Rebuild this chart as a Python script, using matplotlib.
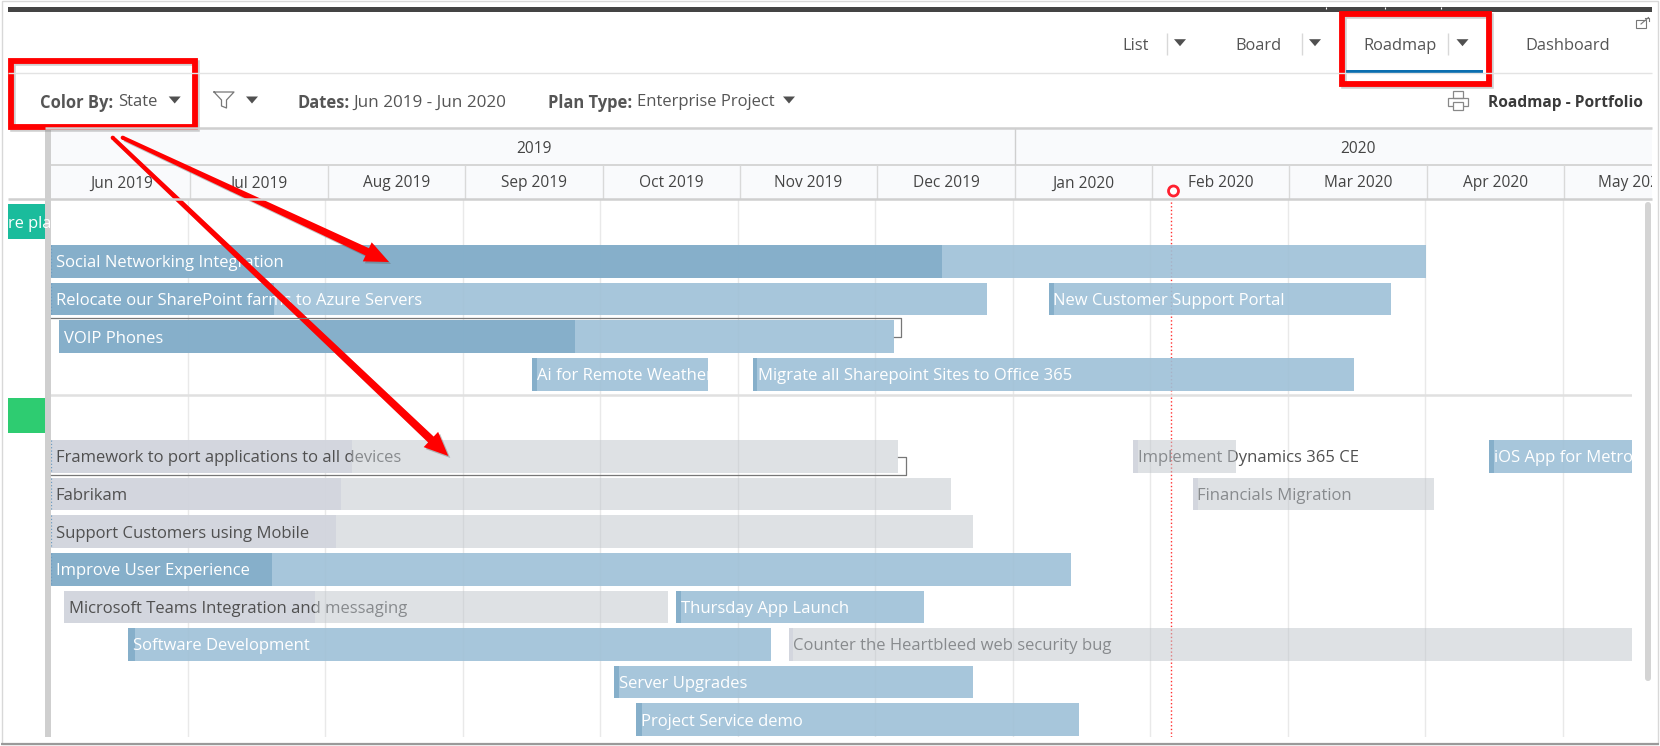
import matplotlib
matplotlib.use("Agg")
import matplotlib.pyplot as plt
import numpy as np
from matplotlib.patches import Circle, FancyBboxPatch, Polygon, Rectangle

plt.rcParams["font.family"] = ["Open Sans", "DejaVu Sans"]

W, H = 1660, 746

# months since the start of Jun 2019
bar_names = [
    "Social Networking Integration", "Relocate our SharePoint farms to Azure Servers",
    "New Customer Support Portal", "VOIP Phones", "Ai for Remote Weather",
    "Migrate all Sharepoint Sites to Office 365", "Framework to port applications to all devices",
    "Implement Dynamics 365 CE", "iOS App for Metro", "Fabrikam", "Financials Migration",
    "Support Customers using Mobile", "Improve User Experience",
    "Microsoft Teams Integration and messaging", "Thursday App Launch", "Software Development",
    "Counter the Heartbleed web security bug", "Server Upgrades", "Project Service demo",
]
bar_rows = [0, 1, 1, 2, 3, 3, 5.186, 5.186, 5.186, 6.186, 6.186, 7.186, 8.186, 9.186, 9.186,
            10.186, 10.186, 11.186, 12.186]
bar_starts = [0.006, 0.006, 7.263, 0.064, 3.505, 5.111, 0.006, 7.875, 10.465, 0.006, 8.31,
              0.006, 0.006, 0.102, 4.556, 0.567, 5.372, 4.102, 4.262]
bar_progress = [6.485, 1.629, 7.302, 3.821, 3.542, 5.145, 2.196, 7.913, 10.5, 2.116, 8.349,
                2.08, 1.615, 1.927, 4.589, 0.618, 5.407, 4.138, 4.305]
bar_ends = [10.004, 6.815, 9.749, 6.135, 4.783, 9.48, 6.167, 8.625, 11.6, 6.553, 10.065,
            6.716, 7.428, 4.491, 6.356, 5.244, 11.6, 6.716, 7.486]
bar_states = ["blue", "blue", "blue", "blue", "blue", "blue", "grey", "grey", "blue", "grey",
              "grey", "grey", "blue", "grey", "blue", "blue", "grey", "blue", "blue"]
today_month = 8.153
section_row = 3.54

year_labels = ["2019", "2020"]
year_edges = [0, 7, 12]
month_labels = ["Jun 2019", "Jul 2019", "Aug 2019", "Sep 2019", "Oct 2019", "Nov 2019", "Dec 2019",
                "Jan 2020", "Feb 2020", "Mar 2020", "Apr 2020", "May 2020"]

BLUE_LIGHT = "#9EC0D7"
BLUE_DARK = "#82ADC9"
GREY_LIGHT = "#BFC5CB"
GREY_DARK = "#D2D5DD"
RED = "#FF0000"
UI_TEXT = "#555555"


def px_axes(fig, left, top, right, bottom, **kwargs):
    return fig.add_axes([left / W, 1 - bottom / H, (right - left) / W, (bottom - top) / H], **kwargs)


def triangle(ax, x, y, w=12, h=7, color="#505050"):
    ax.add_patch(Polygon([[x - w / 2, y - h / 2], [x + w / 2, y - h / 2], [x, y + h / 2]], fc=color, ec="none"))


def red_box(ax, x0, y0, x1, y1):
    ax.add_patch(Rectangle((x0 + 2, y0 + 2), x1 - x0, y1 - y0, fill=False, ec="#777777", lw=4, alpha=0.35))
    ax.add_patch(Rectangle((x0, y0), x1 - x0, y1 - y0, fill=False, ec=RED, lw=4.2, joinstyle="miter"))


def red_arrow(ax, start, tip, head_w=21, head_l=24, tail_w=4, neck_w=8):
    start, tip = np.array(start, float), np.array(tip, float)
    d = (tip - start) / np.linalg.norm(tip - start)
    n = np.array([-d[1], d[0]])
    neck = tip - d * head_l
    pts = [start + n * tail_w / 2, neck + n * neck_w / 2, neck + n * head_w / 2, tip,
           neck - n * head_w / 2, neck - n * neck_w / 2, start - n * tail_w / 2]
    ax.add_patch(Polygon(np.array(pts) + [2, 2], fc="#555555", ec="none", alpha=0.35))
    ax.add_patch(Polygon(pts, fc=RED, ec="none"))
    ax.add_patch(Circle(start, tail_w / 2, fc=RED, ec="none"))


fig = plt.figure(figsize=(W / 100, H / 100), dpi=100, facecolor="white")

# timeline header
head = px_axes(fig, 51, 128, 1652, 199)
head.set_xlim(-0.015, 11.64)
head.set_ylim(2, 0)
head.set_facecolor("#F9FAFC")
head.set_xticks([])
head.set_yticks([])
for s in head.spines.values():
    s.set_visible(False)
head.hlines(1.04, -1, 13, color="#CFCFCF", lw=1.2)
for i, label in enumerate(month_labels):
    head.text(i + 0.5, 1.56, label, ha="center", va="center", fontsize=11.2, color="#444444", clip_on=True)
    head.vlines(i + 1, 1.04, 2, color="#D9D9D9", lw=1)
for i, label in enumerate(year_labels):
    head.vlines(year_edges[i + 1], 0, 1.04, color="#CFCFCF", lw=1)
    head.text((year_edges[i] + year_edges[i + 1]) / 2, 0.6, label, ha="center", va="center", fontsize=11.2, color="#444444")

# the bars
ax = px_axes(fig, 50, 199, 1632, 737)
ax.set_xlim(0, 11.505)
ax.set_ylim(12.646, -1.662)
ax.patch.set_visible(False)
for s in ax.spines.values():
    s.set_visible(False)
ax.set_xticks(range(1, 12))
ax.set_yticks([])
ax.tick_params(length=0, labelbottom=False)
ax.grid(axis="x", color="#E9E9E9", lw=1)
ax.set_axisbelow(True)
ax.axvline(today_month, color="#FF3030", ls=":", lw=1, zorder=1)
ax.axhline(section_row, color="#E0E0E0", lw=1.8, zorder=1)

for name, row, start, prog, end, state in zip(bar_names, bar_rows, bar_starts, bar_progress, bar_ends, bar_states):
    if state == "blue":
        ax.barh(row, prog - start, left=start, height=0.87, color=BLUE_DARK, alpha=0.97, zorder=2)
        ax.barh(row, end - prog, left=prog, height=0.87, color=BLUE_LIGHT, alpha=0.9, zorder=2)
        txt_color, txt_z = "white", 5
    else:
        ax.barh(row, prog - start, left=start, height=0.87, color=GREY_DARK, alpha=0.97, zorder=2)
        ax.barh(row, end - prog, left=prog, height=0.87, color=GREY_LIGHT, alpha=0.5, zorder=4)
        txt_color, txt_z = "#505050", 3
    if start < 0.01:
        ax.vlines(start, row - 0.435, row + 0.435, color="#6F9CC0", ls=":", lw=0.9, zorder=5)
    ax.annotate(name, (start, row), xytext=(3.4, -1.3), textcoords="offset points", va="center", ha="left",
                fontsize=12, color=txt_color, zorder=txt_z, clip_on=True)

# everything else on the page, in pixels
ui = px_axes(fig, 0, 0, W, H)
ui.set_xlim(0, W)
ui.set_ylim(H, 0)
ui.axis("off")
ui.patch.set_visible(False)

ui.add_patch(Rectangle((1.5, 1), W - 4, H - 3.5, fill=False, ec="#D8D8D8", lw=1))
ui.hlines(743.6, 1, W - 1, color="#9A9A9A", lw=1.6)
ui.add_patch(Rectangle((8, 7), 1644, 5, fc="#444444", ec="none"))
ui.vlines([1326, 1385, 1441], 7, 9, color="white", lw=0.8)
ui.hlines(73.3, 8, 1652, color="#E3E3E3", lw=1)
ui.hlines(127.6, 45, 1652, color="#CFCFCF", lw=1.8)
ui.hlines(198.8, 8, 1652, color="#CFCFCF", lw=1.8)
ui.add_patch(Rectangle((45, 127), 6, 610, fc="#CFCFCF", ec="none"))
ui.add_patch(FancyBboxPatch((1645, 202), 6, 479, boxstyle="round,pad=0,rounding_size=3", fc="#D4D4D4", ec="none"))

ui.add_patch(Rectangle((8, 204), 37, 35, fc="#1ABC9C", ec="none"))
ui.add_patch(Rectangle((8, 398), 37, 35, fc="#2ECC71", ec="none"))
ui.text(8, 223.5, "re plan", color="white", fontsize=11.8, va="center", ha="left", clip_on=True,
        clip_path=Rectangle((8, 204), 37, 35, transform=ui.transData))

# connector lines
ui.plot([50.8, 901, 901, 893.5], [318.3, 318.3, 337, 337], color="#777777", lw=0.9)
ui.plot([50.8, 905.7, 905.7, 898], [475.3, 475.3, 457, 457], color="#777777", lw=0.9)

# view tabs
for x, label in zip([1136, 1258.7, 1400, 1568], ["List", "Board", "Roadmap", "Dashboard"]):
    ui.text(x, 46.5, label, ha="center", va="center", fontsize=11.8, color=UI_TEXT)
ui.vlines([1166.6, 1301.6, 1448], 33, 55, color="#D8D8D8", lw=1)
for x in [1180, 1315, 1462.5]:
    triangle(ui, x, 42.7)
ui.add_patch(Rectangle((1346, 70), 137, 3, fc="#0A6EAF", ec="none"))

# toolbar
ui.text(39.7, 102.5, "Color By:", ha="left", va="center", fontsize=11.9, fontweight="bold", color=UI_TEXT)
ui.text(157, 102.5, "State", ha="right", va="center", fontsize=12, color=UI_TEXT)
triangle(ui, 174.7, 100)
ui.plot([214, 234, 226.5, 226.5, 221.5, 221.5, 214], [92, 92, 100, 108, 106, 100, 92], color="#777777", lw=0.9)
triangle(ui, 252, 100)
ui.text(297.5, 102.5, "Dates:", ha="left", va="center", fontsize=11.9, fontweight="bold", color=UI_TEXT)
ui.text(506.5, 102.5, "Jun 2019 - Jun 2020", ha="right", va="center", fontsize=12.3, color=UI_TEXT)
ui.text(548, 102.5, "Plan Type:", ha="left", va="center", fontsize=11.9, fontweight="bold", color=UI_TEXT)
ui.text(637, 102.5, "Enterprise Project", ha="left", va="center", fontsize=11.95, color=UI_TEXT)
triangle(ui, 789, 100)
ui.add_patch(Rectangle((1452.5, 90.5), 10, 7, fill=False, ec="#888888", lw=0.9))
ui.add_patch(Rectangle((1448, 97.5), 19.5, 8.5, fill=False, ec="#888888", lw=0.9))
ui.add_patch(Rectangle((1452.5, 102), 10, 7.5, fc="white", ec="#888888", lw=0.9))
ui.text(1642.5, 103, "Roadmap - Portfolio", ha="right", va="center", fontsize=11.2, fontweight="bold", color="#3A3A3A")
ui.add_patch(Rectangle((1636, 20), 9.5, 8, fill=False, ec="#777777", lw=0.8))
ui.plot([1641, 1648.5], [24, 17.5], color="#777777", lw=0.8)
ui.plot([1645, 1648.5, 1648.5], [17.5, 17.5, 21], color="#777777", lw=0.8)

# today marker and the screenshot markup
ui.add_patch(Circle((1173.5, 191), 5, fc="white", ec="#FF2030", lw=2))
red_box(ui, 10.5, 60.5, 195, 126.5)
red_box(ui, 1341.5, 14, 1489, 84)
red_arrow(ui, (122.7, 137.7), (389, 262))
red_arrow(ui, (112.7, 137.7), (448.3, 456))

fig.savefig("out.png", dpi=100)
